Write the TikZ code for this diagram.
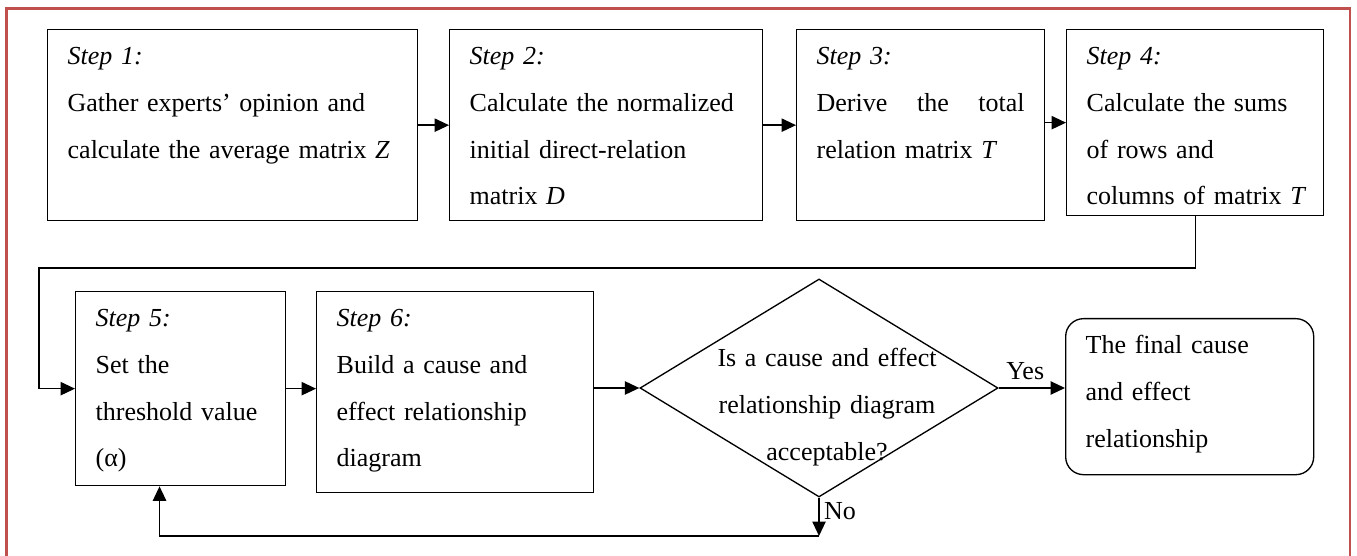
\documentclass[tikz,border=0pt]{standalone}
\usepackage{fontspec}
\setmainfont{Liberation Serif}
\usepackage{tikz}
\usetikzlibrary{arrows.meta,shapes.geometric,calc}
\definecolor{framered}{RGB}{192,80,77}
\hfuzz=4pt
\tikzset{
	stepbox/.style 2 args={draw, line width=0.6pt, anchor=north west, align=left,
		inner xsep=9pt, inner ysep=0pt, text width=#1, text height=15.8pt, text depth=#2},
	finalbox/.style={stepbox={93.6pt}{54.4pt}, rounded corners=8pt},
	decision/.style={draw, diamond, line width=0.6pt, inner sep=0pt,
		minimum width=161.1pt, minimum height=98.1pt},
	arr/.style={line width=0.6pt, -{Triangle[length=6.5pt,width=6pt]}}
}

\begin{document}
\begin{tikzpicture}[x=0.45pt, y=-0.45pt, font=\fontsize{11.7}{21}\selectfont]
			\useasboundingbox (0,0) rectangle (1357,556);
			\draw[framered, line width=1.1pt] (6.5,556) -- (6.5,8.5) -- (1350,8.5) -- (1350,556);
			
			% first row
			\node[stepbox={148.5pt}{70.15pt}] (s1) at (47,29) {\textit{Step 1:}\\Gather experts' opinion and\\\mbox{calculate the average matrix \textit{Z}}};
			\node[stepbox={122.85pt}{70.15pt}] (s2) at (449,29) {\textit{Step 2:}\\Calculate the normalized\\initial direct-relation\\matrix \textit{D}};
			\node[stepbox={93.6pt}{70.15pt}] (s3) at (796,29) {\textit{Step 3:}\\Derive\hfill the\hfill total\\relation matrix \textit{T}};
			\node[stepbox={97.65pt}{67.9pt}] (s4) at (1066,29) {\textit{Step 4:}\\Calculate the sums\\of rows and\\\mbox{columns of matrix \textit{T}}};
			
			% second row
			\node[stepbox={76.5pt}{71.5pt}] (s5) at (75,291) {\textit{Step 5:}\\Set the\\threshold value\\(α)};
			\node[stepbox={106.65pt}{74.65pt}] (s6) at (316,291) {\textit{Step 6:}\\Build a cause and\\effect relationship\\diagram};
			\node[decision] (dec) at (819,388) {};
			\node[anchor=base, align=center, text width=110pt, inner sep=0pt] (dectext) at (827,367) {Is a cause and effect\\relationship diagram\\acceptable?};
			\node[finalbox] (fin) at (1065,318) {The final cause\\and effect\\relationship};
			
			\coordinate (turn) at (39,268);
			\coordinate (back) at (819,536);
			
			\draw[arr] (s1) -- (s2);
			\draw[arr] (s2) -- (s3);
			\draw[arr] (s3.east |- s4.west) -- (s4.west);
			\draw[arr] (s4.south) |- (turn) |- (s5.west);
			\draw[arr] (s5.east) -- (s5.east -| s6.west);
			\draw[arr] (s6.east |- dec.west) -- (dec.west);
			\draw[arr] (dec.east) -- node[above, pos=0.4] (yes) {Yes} (dec.east -| fin.west);
			\draw[arr] (dec.south) -- node[right, pos=0.35, inner xsep=2pt] (no) {No} (back);
			\draw[arr] (back) -| ($(s5.south west)!0.4!(s5.south east)$);
\end{tikzpicture}
\end{document}
